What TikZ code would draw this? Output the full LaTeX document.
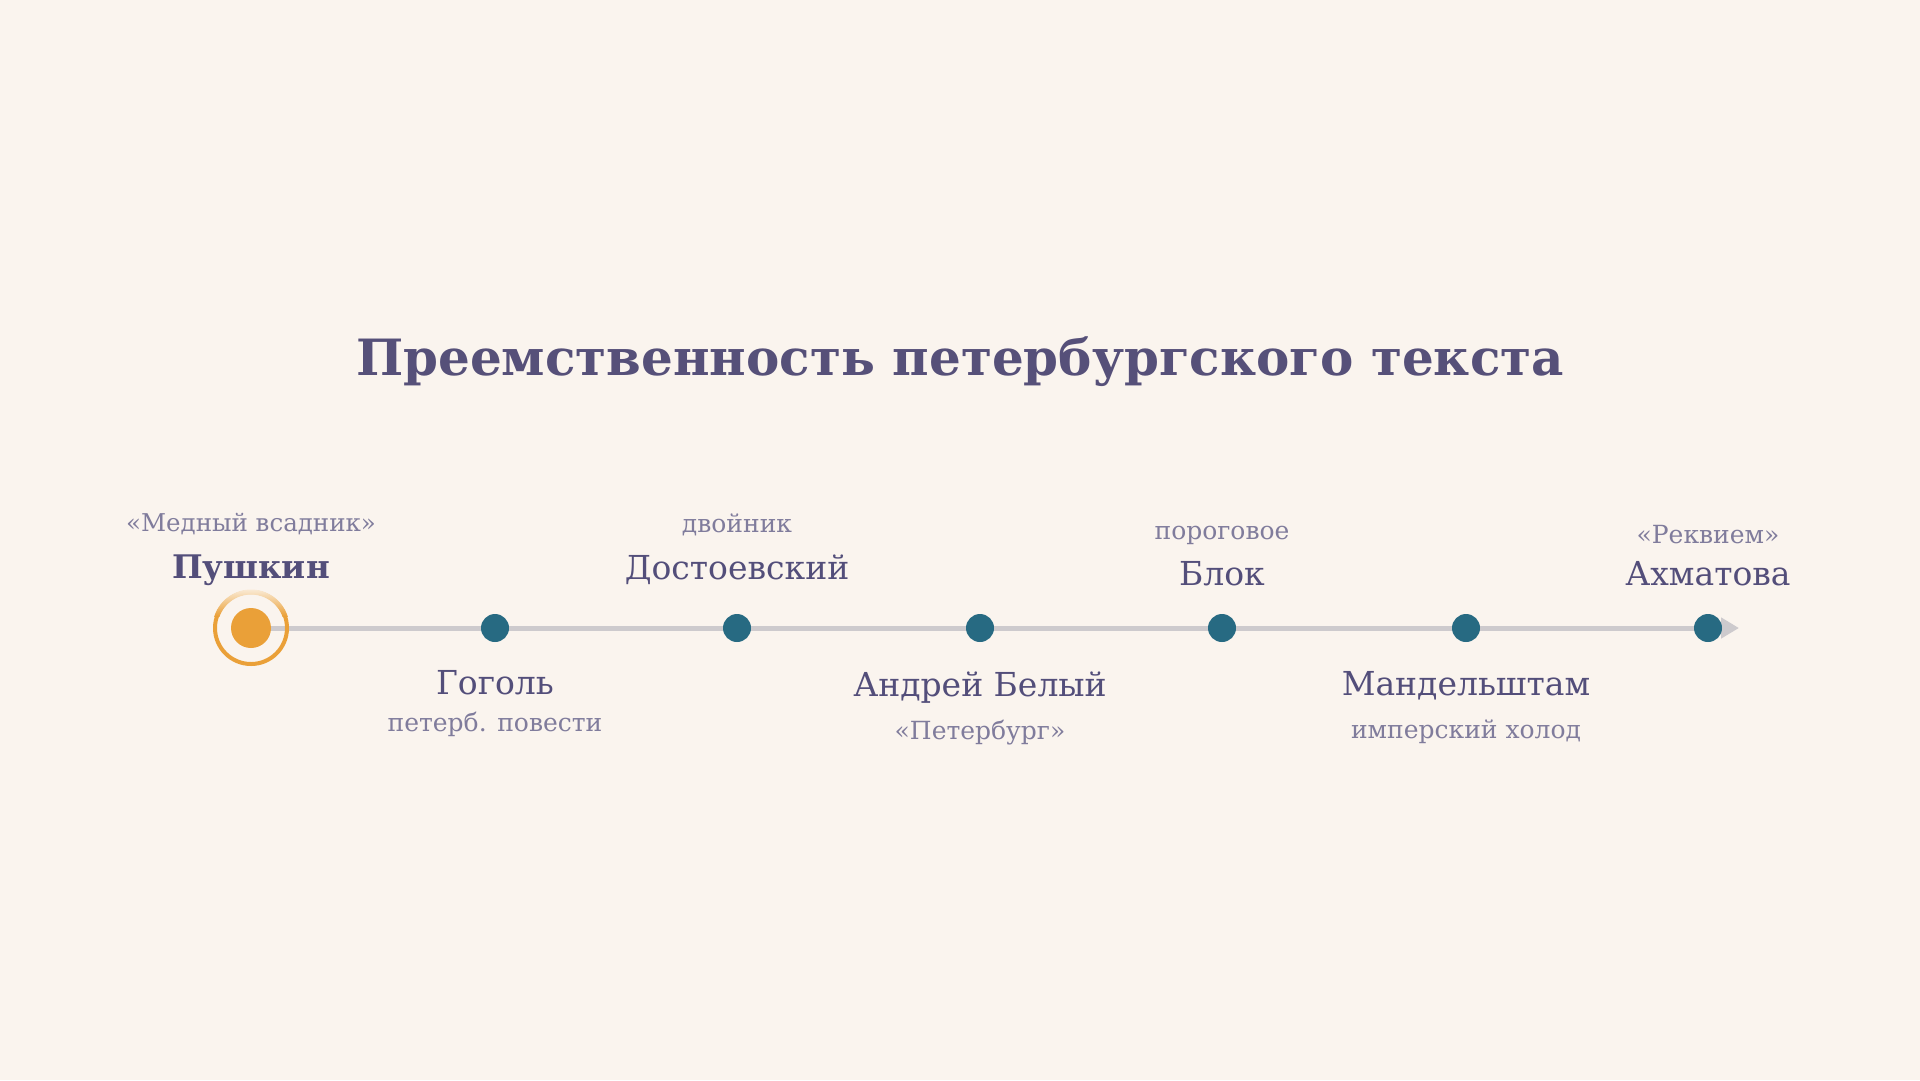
\documentclass[tikz,border=0pt]{standalone}
\usepackage{fontspec}
\setmainfont{DejaVu Serif}
\usetikzlibrary{arrows.meta}
\definecolor{bgc}{HTML}{FAF4EE}
\definecolor{titlec}{HTML}{565079}
\definecolor{namec}{HTML}{534E7A}
\definecolor{subc}{HTML}{807C9C}
\definecolor{dotc}{HTML}{276A82}
\definecolor{orc}{HTML}{EAA038}
\definecolor{orl}{HTML}{FAEBD6}
\definecolor{linec}{HTML}{CDCACD}
\tikzset{
  namelbl/.style={anchor=base, inner sep=0pt, text=namec, font=\fontsize{33}{33}\selectfont},
  sublbl/.style={anchor=base, inner sep=0pt, text=subc, font=\fontsize{25}{25}\selectfont},
  dotnode/.style={circle, fill=dotc, minimum size=28pt, inner sep=0pt},
  tline/.style={draw=linec, line width=5pt, -{Triangle[length=18pt,width=20pt]}}
}
\begin{document}
\begin{tikzpicture}[x=1pt,y=-1pt]
\fill[bgc] (0,0) rectangle (1920,1080);
\useasboundingbox (0,0) rectangle (1920,1080);
\node[anchor=base, inner sep=0pt, text=titlec, font=\fontsize{50}{50}\selectfont\bfseries] (title) at (960,375) {Преемственность петербургского текста};
\coordinate (c1) at (251,628);
\coordinate (c2) at (495,628);
\coordinate (c3) at (737,628);
\coordinate (c4) at (980,628);
\coordinate (c5) at (1222,628);
\coordinate (c6) at (1466,628);
\coordinate (c7) at (1708,628);
\coordinate (tip) at (1739,628);
\draw[tline] (c1) -- (tip);
\fill[orc, even odd rule] (c1) circle[radius=38pt] (c1) circle[radius=34pt];
\begin{scope}[even odd rule]
  \clip (c1) circle[radius=38.5pt] (c1) circle[radius=33.5pt];
  \shade[top color=orl, bottom color=orc] (211,589) rectangle (291,616);
\end{scope}
\node[circle, fill=orc, minimum size=40pt, inner sep=0pt] (d1) at (c1) {};
\node[dotnode] (d2) at (c2) {};
\node[dotnode] (d3) at (c3) {};
\node[dotnode] (d4) at (c4) {};
\node[dotnode] (d5) at (c5) {};
\node[dotnode] (d6) at (c6) {};
\node[dotnode] (d7) at (c7) {};
% labels
\node[namelbl, font=\fontsize{32.5}{32.5}\selectfont\bfseries] (n1) at (251,578) {Пушкин};
\node[sublbl, font=\fontsize{24.5}{24.5}\selectfont] (s1) at (251,531) {«Медный всадник»};
\node[namelbl] (n2) at (495,694) {Гоголь};
\node[sublbl] (s2) at (495,731) {петерб. повести};
\node[namelbl] (n3) at (737,579) {Достоевский};
\node[sublbl] (s3) at (737,532) {двойник};
\node[namelbl] (n4) at (980,696) {Андрей Белый};
\node[sublbl] (s4) at (980,739) {«Петербург»};
\node[namelbl] (n5) at (1222,585) {Блок};
\node[sublbl] (s5) at (1222,539) {пороговое};
\node[namelbl] (n6) at (1466,695) {Мандельштам};
\node[sublbl] (s6) at (1466,738) {имперский холод};
\node[namelbl] (n7) at (1708,585) {Ахматова};
\node[sublbl] (s7) at (1708,543) {«Реквием»};
\end{tikzpicture}
\end{document}
